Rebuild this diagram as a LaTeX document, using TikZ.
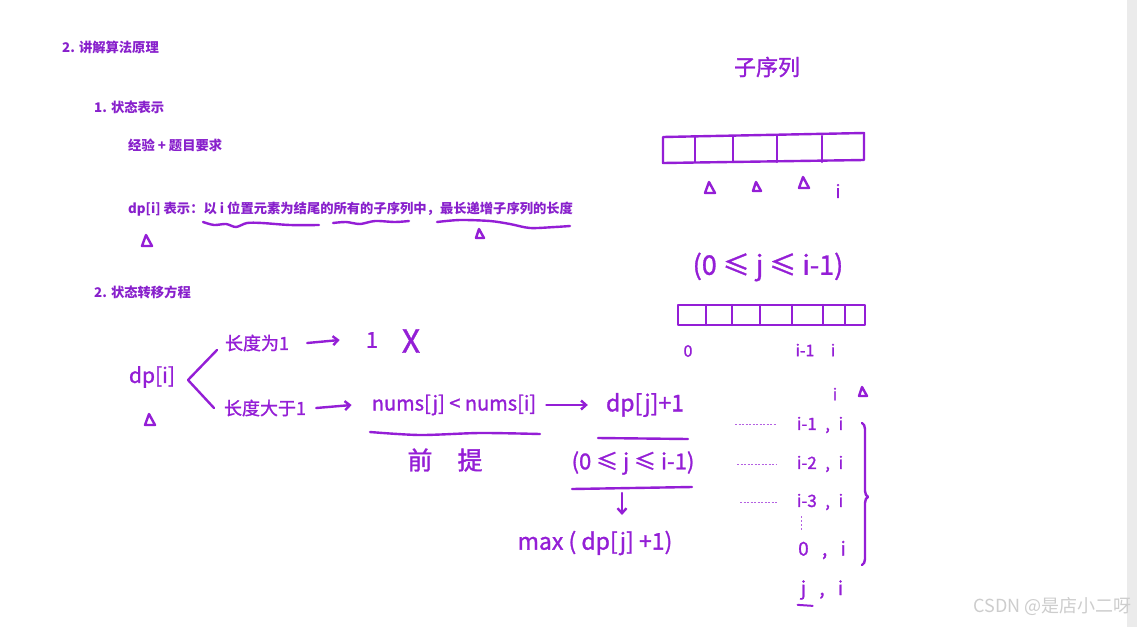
\documentclass[tikz,border=0pt]{standalone}
\usepackage{fontspec}
\newfontfamily\cjk{Noto Sans CJK SC}
\newfontfamily\hand{Noto Sans CJK SC}[FakeBold=1.2]
\usetikzlibrary{arrows.meta,decorations.pathreplacing}
\definecolor{ink}{RGB}{148,30,214}
\definecolor{printc}{RGB}{136,32,204}
\definecolor{wm}{RGB}{205,205,205}
\definecolor{barc}{RGB}{235,235,235}
\tikzset{
  pt/.style={font=\cjk\bfseries\fontsize{13.3}{16}\selectfont, text=printc, inner sep=0, anchor=west},
  hw/.style={font=\hand\fontsize{#1}{#1}\selectfont, text=ink, inner sep=0},
  pen/.style={draw=ink, line width=2.4pt, line cap=round, line join=round},
  thinpen/.style={draw=ink!70, line width=0.8pt, dash pattern=on 2pt off 1.5pt},
  harrow/.style={pen, -{Straight Barb[length=5pt,width=9pt]}},
  tri/.pic={\draw[pen] (-5,5) -- (-1,-6) -- (5,5) -- cycle;},
  trismall/.pic={\draw[pen] (-4,4) -- (-1,-5) -- (4,4) -- cycle;}
}
\begin{document}
\begin{tikzpicture}[x=1pt,y=-1pt]
\useasboundingbox (0,0) rectangle (1137,627);
\fill[white] (0,0) rectangle (1137,627);
\fill[barc] (1127,0) rectangle (1137,627);

% printed text
\node[pt] (h2) at (62,47) {2. 讲解算法原理};
\node[pt] (h21) at (94,107) {1. 状态表示};
\node[pt] (exp) at (128,145) {经验 + 题目要求};
\node[pt] (def) at (128,209) {dp[i] 表示：以 i 位置元素为结尾的所有的子序列中，最长递增子序列的长度};
\node[pt] (h22) at (94,292) {2. 状态转移方程};

% wavy underlines
\draw[pen] plot[smooth] coordinates {(203,222) (214,225) (226,224) (236,227) (247,223) (262,223) (290,225) (319,225)};
\draw[pen] plot[smooth] coordinates {(333,223) (346,222) (360,224) (375,221) (395,222) (409,221)};
\draw[pen] plot[smooth] coordinates {(437,222) (460,220) (490,221) (510,224) (530,228) (555,227) (570,226)};
\pic at (147,241) {tri};
\pic at (480,234) {trismall};

% handwritten transition
\node[hw=21] (dpi) at (152,377) {dp[i]};
\pic at (150,420) {tri};
\coordinate (bt) at (217,350);
\coordinate (bm) at (188,380);
\coordinate (bb) at (214,408);
\draw[pen] (bt) -- (bm) -- (bb);

\node[hw=18] (len1) at (257,343) {长度为1};
\node[hw=22] (one) at (372,340) {1};
\node[hw=32] (cross) at (411,341) {X};
\draw[harrow] ([xshift=18pt]len1.east) -- ([xshift=-26pt]one.west);

\node[hw=18] (len2) at (265,408) {长度大于1};
\node[hw=20] (cond) at (454,405) {nums[j] < nums[i]};
\draw[harrow] ([xshift=10pt]len2.east) -- ([xshift=-20pt]cond.west);
\draw[pen] plot[smooth] coordinates {(370,432) (420,435) (480,433) (540,434)};
\node[hw=25] (prem) at (445,460) {前\quad 提};

\node[hw=23] (dpj) at (645,405) {dp[j]+1};
\draw[harrow] ([xshift=10pt]cond.east) -- ([xshift=-18pt]dpj.west);
\draw[pen] (598,438) -- (688,439);
\node[hw=22] (rng) at (633,463) {(0 ≤ j ≤ i-1)};
\draw[pen] (572,489) -- (692,487);
\coordinate (da) at (622,493);
\coordinate (db) at (622,515);
\node[hw=23] (maxn) at (595,543) {max ( dp[j] +1)};
\draw[harrow] (da) -- (db);

% right side
\node[hw=22] (seq) at (767,67) {子序列};
\draw[pen] (663,137) -- (864,133) -- (864,160) -- (663,163) -- cycle;
\foreach \x in {695,733,777,822} \draw[pen] (\x,136) -- (\x,162);
\pic at (710,188) {tri};
\pic at (757,187) {trismall};
\pic at (804,183) {tri};
\node[hw=18] (ia) at (838,191) {i};

\node[hw=27] (rng2) at (768,267) {(0 ≤ j ≤ i-1)};
\draw[pen] (678,305) rectangle (865,325);
\foreach \x in {706,732,760,792,823,845} \draw[pen] (\x,305) -- (\x,325);
\node[hw=16] (z0) at (688,351) {0};
\node[hw=16] (im1) at (805,350) {i-1};
\node[hw=16] (ib) at (833,350) {i};

\node[hw=16] (ic) at (835,394) {i};
\pic at (863,392) {trismall};

\node[hw=17] (r1) at (820,425) {i-1\enspace,\enspace i};
\node[hw=17] (r2) at (820,464) {i-2\enspace,\enspace i};
\node[hw=17] (r3) at (820,502) {i-3\enspace,\enspace i};
\node[hw=19] (r4) at (822,550) {0\hspace{0.7em},\hspace{0.7em}i};
\node[hw=19] (r5) at (822,590) {j\hspace{0.7em},\hspace{0.7em}i};
\coordinate (d1a) at (735,424); \coordinate (d1b) at (777,424);
\coordinate (d2a) at (737,464); \coordinate (d2b) at (776,464);
\coordinate (d3a) at (740,502); \coordinate (d3b) at (778,502);
\draw[thinpen] (d1a) -- (d1b);
\draw[thinpen] (d2a) -- (d2b);
\draw[thinpen] (d3a) -- (d3b);
\draw[draw=ink!70, line width=1pt, dash pattern=on 2pt off 2pt] (801,516) -- (801,531);
\draw[pen, line width=2pt] (r5.south west) ++(-3,5) coordinate (ja) -- ++(15,1) coordinate (jb);
\draw[pen, decorate, decoration={brace, amplitude=6pt, aspect=0.52}] (862,423) -- (862,565);

% watermark
\node[font=\cjk\fontsize{18}{18}\selectfont, text=wm, inner sep=0, anchor=east] (wmk) at (1132,607) {CSDN @是店小二呀};
\end{tikzpicture}
\end{document}
